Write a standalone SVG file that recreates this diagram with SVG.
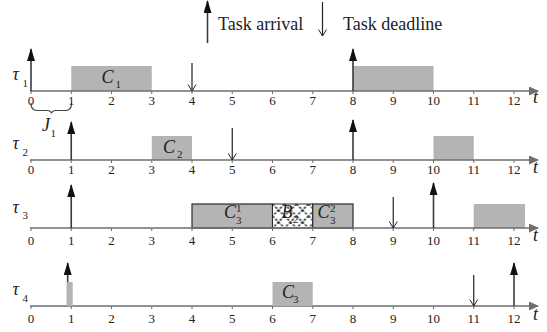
<svg xmlns="http://www.w3.org/2000/svg" width="547" height="332" viewBox="0 0 547 332">
<style>
.ax{stroke:#6e6e6e;stroke-width:1.5;fill:none}
.tk{stroke:#6e6e6e;stroke-width:1}
.arr{stroke:#3a3a3a;stroke-width:1.6;fill:none}
.dl{stroke:#222;stroke-width:1.2;fill:none}
.box{fill:#b4b4b4}
.sbox{fill:#b4b4b4;stroke:#2a2a2a;stroke-width:1.2}
.num{font-family:"Liberation Serif",serif;font-size:13px;fill:#222;text-anchor:middle}
.it{font-family:"Liberation Serif",serif;font-style:italic;fill:#222}
.lbl{font-size:18px}
.sub{font-family:"Liberation Serif",serif;font-size:11px;fill:#222}
.leg{font-family:"Liberation Serif",serif;font-size:18px;fill:#222}
</style>
<defs>
<marker id="ha" markerWidth="13" markerHeight="8" refX="12" refY="4" orient="auto" markerUnits="userSpaceOnUse"><path d="M0,0 L13,4 L0,8 z" fill="#111"/></marker>
<marker id="hd" markerWidth="8" markerHeight="10" refX="7" refY="5" orient="auto" markerUnits="userSpaceOnUse"><path d="M0.5,1 L7,5 L0.5,9" fill="none" stroke="#222" stroke-width="1"/></marker>
<marker id="hx" markerWidth="10" markerHeight="9" refX="9" refY="4.5" orient="auto" markerUnits="userSpaceOnUse"><path d="M0,0 L10,4.5 L0,9 z" fill="#6e6e6e"/></marker>
<pattern id="hatch" x="272.5" y="204" width="12" height="12" patternUnits="userSpaceOnUse"><rect width="12" height="12" fill="#fff"/><path d="M0,0 L12,12 M12,0 L0,12" stroke="#3a3a3a" stroke-width="1.6" stroke-dasharray="2.5,1.5"/></pattern>
</defs>

<g id="legend">
<line class="arr" x1="207.5" y1="43" x2="207.5" y2="1" marker-end="url(#ha)"/>
<text class="leg" x="218" y="30">Task arrival</text>
<line class="dl" x1="322.5" y1="2" x2="322.5" y2="36" marker-end="url(#hd)"/>
<text class="leg" x="343" y="30">Task deadline</text>
</g>

<g id="task1">
<rect class="box" x="71.25" y="66" width="80.5" height="25"/>
<rect class="box" x="353" y="66" width="80.5" height="25"/>
<text class="it lbl" x="101.5" y="83">C</text><text class="sub" x="115.5" y="88">1</text>
<text class="it lbl" x="12.5" y="80">τ</text><text class="sub" x="22.5" y="87">1</text>
<path d="M31,103 Q31,110.5 37,110.5 L47,110.5 Q51,110.5 51.5,113.5 Q52,110.5 56,110.5 L66,110.5 Q71.5,110.5 71.5,103" fill="none" stroke="#444" stroke-width="1.2"/>
<text class="it lbl" x="42" y="131">J</text><text class="sub" x="50.5" y="137">1</text>
</g>

<g id="task2">
<rect class="box" x="151.75" y="136" width="40.25" height="24"/>
<rect class="box" x="433.5" y="136" width="40.25" height="24"/>
<text class="it lbl" x="163" y="153">C</text><text class="sub" x="177" y="158">2</text>
<text class="it lbl" x="12.5" y="149">τ</text><text class="sub" x="22.5" y="156">2</text>
</g>

<g id="task3">
<rect class="sbox" x="192" y="204" width="80.5" height="24"/>
<rect x="272.5" y="204" width="40.25" height="24" fill="url(#hatch)" stroke="#2a2a2a" stroke-width="1"/>
<rect class="sbox" x="312.75" y="204" width="40.25" height="24"/>
<rect class="box" x="473.75" y="204" width="51.25" height="24"/>
<text class="it lbl" x="224" y="218">C</text><text class="sub" x="236" y="212">1</text><text class="sub" x="236" y="224">3</text>
<text class="it lbl" x="281.5" y="218">B</text><text class="sub" x="293" y="223">2</text>
<text class="it lbl" x="317.5" y="218">C</text><text class="sub" x="330" y="212">2</text><text class="sub" x="330" y="224">3</text>
<text class="it lbl" x="12.5" y="213">τ</text><text class="sub" x="22.5" y="219">3</text>
</g>

<g id="connectors">
<line class="ax" x1="30" y1="91" x2="538" y2="91" marker-end="url(#hx)"/>
<line class="ax" x1="30" y1="160" x2="538" y2="160" marker-end="url(#hx)"/>
<line class="ax" x1="30" y1="228" x2="538" y2="228" marker-end="url(#hx)"/>
<line class="ax" x1="30" y1="306" x2="538" y2="306" marker-end="url(#hx)"/>
<line class="arr" x1="31" y1="91" x2="31" y2="49" marker-end="url(#ha)"/>
<line class="arr" x1="353" y1="91" x2="353" y2="49" marker-end="url(#ha)"/>
<line class="arr" x1="71.25" y1="160" x2="71.25" y2="122" marker-end="url(#ha)"/>
<line class="arr" x1="353" y1="160" x2="353" y2="120" marker-end="url(#ha)"/>
<line class="arr" x1="71.25" y1="228" x2="71.25" y2="185" marker-end="url(#ha)"/>
<line class="arr" x1="433.5" y1="228" x2="433.5" y2="183" marker-end="url(#ha)"/>
<line class="arr" x1="67.7" y1="306" x2="67.7" y2="263" marker-end="url(#ha)"/>
<line class="arr" x1="514" y1="306" x2="514" y2="263" marker-end="url(#ha)"/>
<line class="dl" x1="192" y1="63" x2="192" y2="91" marker-end="url(#hd)"/>
<line class="dl" x1="232.25" y1="128" x2="232.25" y2="160" marker-end="url(#hd)"/>
<line class="dl" x1="393.25" y1="197" x2="393.25" y2="228" marker-end="url(#hd)"/>
<line class="dl" x1="473.75" y1="275" x2="473.75" y2="306" marker-end="url(#hd)"/>
</g>

<g id="task4">
<rect class="box" x="66.7" y="282" width="6" height="24"/>
<rect class="box" x="272.5" y="282" width="40.25" height="24"/>
<text class="it lbl" x="282" y="298">C</text><text class="sub" x="293" y="303">3</text>
<text class="it lbl" x="12.5" y="295">τ</text><text class="sub" x="22.5" y="302">4</text>
</g>

<g id="ticks">
<path class="tk" d="M31,91v3M71.25,91v3M111.5,91v3M151.75,91v3M192,91v3M232.25,91v3M272.5,91v3M312.75,91v3M353,91v3M393.25,91v3M433.5,91v3M473.75,91v3M514,91v3
M31,160v3M71.25,160v3M111.5,160v3M151.75,160v3M192,160v3M232.25,160v3M272.5,160v3M312.75,160v3M353,160v3M393.25,160v3M433.5,160v3M473.75,160v3M514,160v3
M31,228v3M71.25,228v3M111.5,228v3M151.75,228v3M192,228v3M232.25,228v3M272.5,228v3M312.75,228v3M353,228v3M393.25,228v3M433.5,228v3M473.75,228v3M514,228v3
M31,306v3M71.25,306v3M111.5,306v3M151.75,306v3M192,306v3M232.25,306v3M272.5,306v3M312.75,306v3M353,306v3M393.25,306v3M433.5,306v3M473.75,306v3M514,306v3"/>
</g>

<g id="labels">
<text class="num" y="105"><tspan x="31">0</tspan><tspan x="71.25">1</tspan><tspan x="111.5">2</tspan><tspan x="151.75">3</tspan><tspan x="192">4</tspan><tspan x="232.25">5</tspan><tspan x="272.5">6</tspan><tspan x="312.75">7</tspan><tspan x="353">8</tspan><tspan x="393.25">9</tspan><tspan x="433.5">10</tspan><tspan x="473.75">11</tspan><tspan x="514">12</tspan></text>
<text class="num" y="174"><tspan x="31">0</tspan><tspan x="71.25">1</tspan><tspan x="111.5">2</tspan><tspan x="151.75">3</tspan><tspan x="192">4</tspan><tspan x="232.25">5</tspan><tspan x="272.5">6</tspan><tspan x="312.75">7</tspan><tspan x="353">8</tspan><tspan x="393.25">9</tspan><tspan x="433.5">10</tspan><tspan x="473.75">11</tspan><tspan x="514">12</tspan></text>
<text class="num" y="245"><tspan x="31">0</tspan><tspan x="71.25">1</tspan><tspan x="111.5">2</tspan><tspan x="151.75">3</tspan><tspan x="192">4</tspan><tspan x="232.25">5</tspan><tspan x="272.5">6</tspan><tspan x="312.75">7</tspan><tspan x="353">8</tspan><tspan x="393.25">9</tspan><tspan x="433.5">10</tspan><tspan x="473.75">11</tspan><tspan x="514">12</tspan></text>
<text class="num" y="323"><tspan x="31">0</tspan><tspan x="71.25">1</tspan><tspan x="111.5">2</tspan><tspan x="151.75">3</tspan><tspan x="192">4</tspan><tspan x="232.25">5</tspan><tspan x="272.5">6</tspan><tspan x="312.75">7</tspan><tspan x="353">8</tspan><tspan x="393.25">9</tspan><tspan x="433.5">10</tspan><tspan x="473.75">11</tspan><tspan x="514">12</tspan></text>
<text class="it lbl" x="533" y="103">t</text>
<text class="it lbl" x="533" y="173">t</text>
<text class="it lbl" x="533" y="241">t</text>
<text class="it lbl" x="533" y="320">t</text>
</g>
</svg>
